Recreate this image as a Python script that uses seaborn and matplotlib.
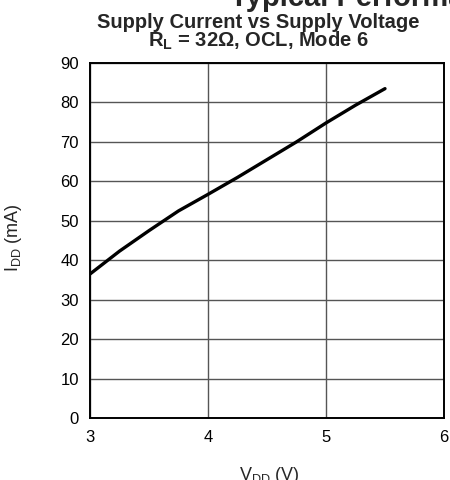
import matplotlib
matplotlib.use("Agg")
import matplotlib.pyplot as plt
import seaborn as sns
import pandas as pd

vdd = [3.0, 3.25, 3.5, 3.75, 4.0, 4.25, 4.5, 4.75, 5.0, 5.25, 5.5]
idd = [36.5, 42.3, 47.5, 52.5, 56.7, 61.0, 65.5, 70.0, 74.8, 79.3, 83.5]
x_ticks = [3, 4, 5, 6]
y_ticks = [0, 10, 20, 30, 40, 50, 60, 70, 80, 90]

sns.set_style("white")
plt.rcParams['font.family'] = ['Liberation Sans', 'DejaVu Sans']
plt.rcParams['mathtext.fontset'] = 'custom'
plt.rcParams['mathtext.rm'] = 'Liberation Sans'
plt.rcParams['mathtext.bf'] = 'Liberation Sans:bold'

df = pd.DataFrame({"VDD": vdd, "IDD": idd})

fig = plt.figure(figsize=(4.5, 4.8), dpi=100)
ax = fig.add_axes([90/450, 1 - 418/480, (444 - 90)/450, (418 - 63)/480])

sns.lineplot(data=df, x="VDD", y="IDD", ax=ax, color="black", linewidth=2.4)

ax.set_xlim(3, 6)
ax.set_ylim(0, 90)
ax.set_xticks(x_ticks)
ax.set_yticks(y_ticks)
ax.grid(True, color="#555555", linewidth=1.0)
ax.set_axisbelow(True)
for s in ax.spines.values():
    s.set_color("black")
    s.set_linewidth(1.4)
ax.tick_params(axis="both", length=0, labelsize=12, colors="black")
ax.tick_params(axis="x", pad=8.5)
ax.tick_params(axis="y", pad=8)
ax.set_xlabel("")
ax.set_ylabel(r"I$_{\mathregular{DD}}$ (mA)", fontsize=13)
ax.yaxis.set_label_coords(-0.186, 0.508)

fig.text(239/450, 1 - 480/480, r"V$_{\mathregular{DD}}$ (V)", fontsize=13,
         ha="left", va="baseline")

fig.text(230/450, 1 - 6.5/480, "Typical Performance Characteristics", fontsize=21,
         fontweight="bold", ha="left", va="baseline")
fig.text(258/450, 1 - 27.5/480, "Supply Current vs Supply Voltage", fontsize=14.5,
         fontweight="bold", ha="center", va="baseline")
fig.text(258/450, 1 - 47/480, r"$\mathbf{R_{L}}$ = 32Ω, OCL, Mode 6", fontsize=14.5,
         fontweight="bold", ha="center", va="baseline")

fig.savefig("out.png", dpi=100)
